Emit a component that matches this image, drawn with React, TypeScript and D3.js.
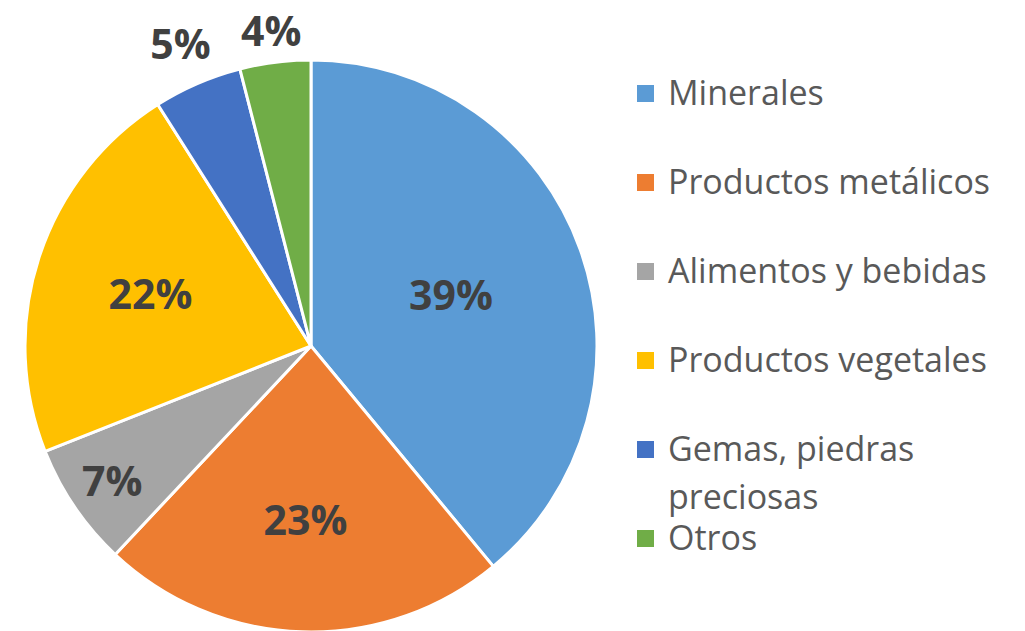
import React, { useEffect, useRef } from 'react';
import * as d3 from 'd3';

const categories = [
  'Minerales',
  'Productos metálicos',
  'Alimentos y bebidas',
  'Productos vegetales',
  'Gemas, piedras preciosas',
  'Otros',
];
const shares = [39, 23, 7, 22, 5, 4];
const colors = ['#5B9BD5', '#ED7D31', '#A5A5A5', '#FFC000', '#4472C4', '#70AD47'];
// legend text split in lines, like the wrapped Excel legend
const legendLines = [
  ['Minerales'],
  ['Productos metálicos'],
  ['Alimentos y bebidas'],
  ['Productos vegetales'],
  ['Gemas, piedras', 'preciosas'],
  ['Otros'],
];
// how far out each data label sits, as a share of the radius
const labelRadius = [0.52, 0.61, 0.84, 0.59, 1.15, 1.11];

const WIDTH = 1025;
const HEIGHT = 631;

const App = () => {
  const chartRef = useRef<SVGSVGElement>(null);

  useEffect(() => {
    const svg = d3.select(chartRef.current);
    svg.selectAll('*').remove();

    const cx = 311;
    const cy = 346;
    const radius = 286;

    const data = categories.map((name, i) => ({ name, value: shares[i], i }));

    const pie = d3.pie<any>()
      .value(d => d.value)
      .sort(null);
    const arcs = pie(data);

    const arc = d3.arc<any>()
      .innerRadius(0)
      .outerRadius(radius);

    const g = svg.append('g')
      .attr('transform', `translate(${cx},${cy})`);

    g.selectAll('path')
      .data(arcs)
      .enter().append('path')
      .attr('d', arc)
      .attr('fill', d => colors[d.data.i])
      .attr('stroke', '#ffffff')
      .attr('stroke-width', 3)
      .attr('stroke-linejoin', 'round');

    // data labels
    g.selectAll('text.label')
      .data(arcs)
      .enter().append('text')
      .attr('class', 'label')
      .attr('transform', d => {
        const r = radius * labelRadius[d.data.i];
        const c = d3.arc<any>().innerRadius(r).outerRadius(r).centroid(d);
        return `translate(${c[0]},${c[1]})`;
      })
      .attr('text-anchor', 'middle')
      .attr('dy', '0.36em')
      .style('font-family', '"Open Sans", sans-serif')
      .style('font-weight', 700)
      .style('font-size', '41px')
      .style('fill', '#404040')
      .text(d => `${d.data.value}%`);

    // legend
    const legendY = d3.scalePoint<string>()
      .domain(categories)
      .range([105, 550]);

    const legend = svg.append('g');
    const items = legend.selectAll('g')
      .data(data)
      .enter().append('g')
      .attr('transform', d => `translate(0,${legendY(d.name)})`);

    items.append('rect')
      .attr('x', 637)
      .attr('y', -20)
      .attr('width', 17)
      .attr('height', 17)
      .attr('fill', d => colors[d.i]);

    items.append('text')
      .attr('x', 668)
      .style('font-family', '"Open Sans", sans-serif')
      .style('font-size', '34px')
      .style('fill', '#595959')
      .selectAll('tspan')
      .data(d => legendLines[d.i])
      .enter().append('tspan')
      .attr('x', 668)
      .attr('y', (d, j) => j * 48)
      .text(d => d);
  }, []);

  return (
    <svg
      ref={chartRef}
      width={WIDTH}
      height={HEIGHT}
      style={{ position: 'absolute', left: 0, top: 0, background: '#ffffff', overflow: 'hidden' }}
    />
  );
};

export default App;
